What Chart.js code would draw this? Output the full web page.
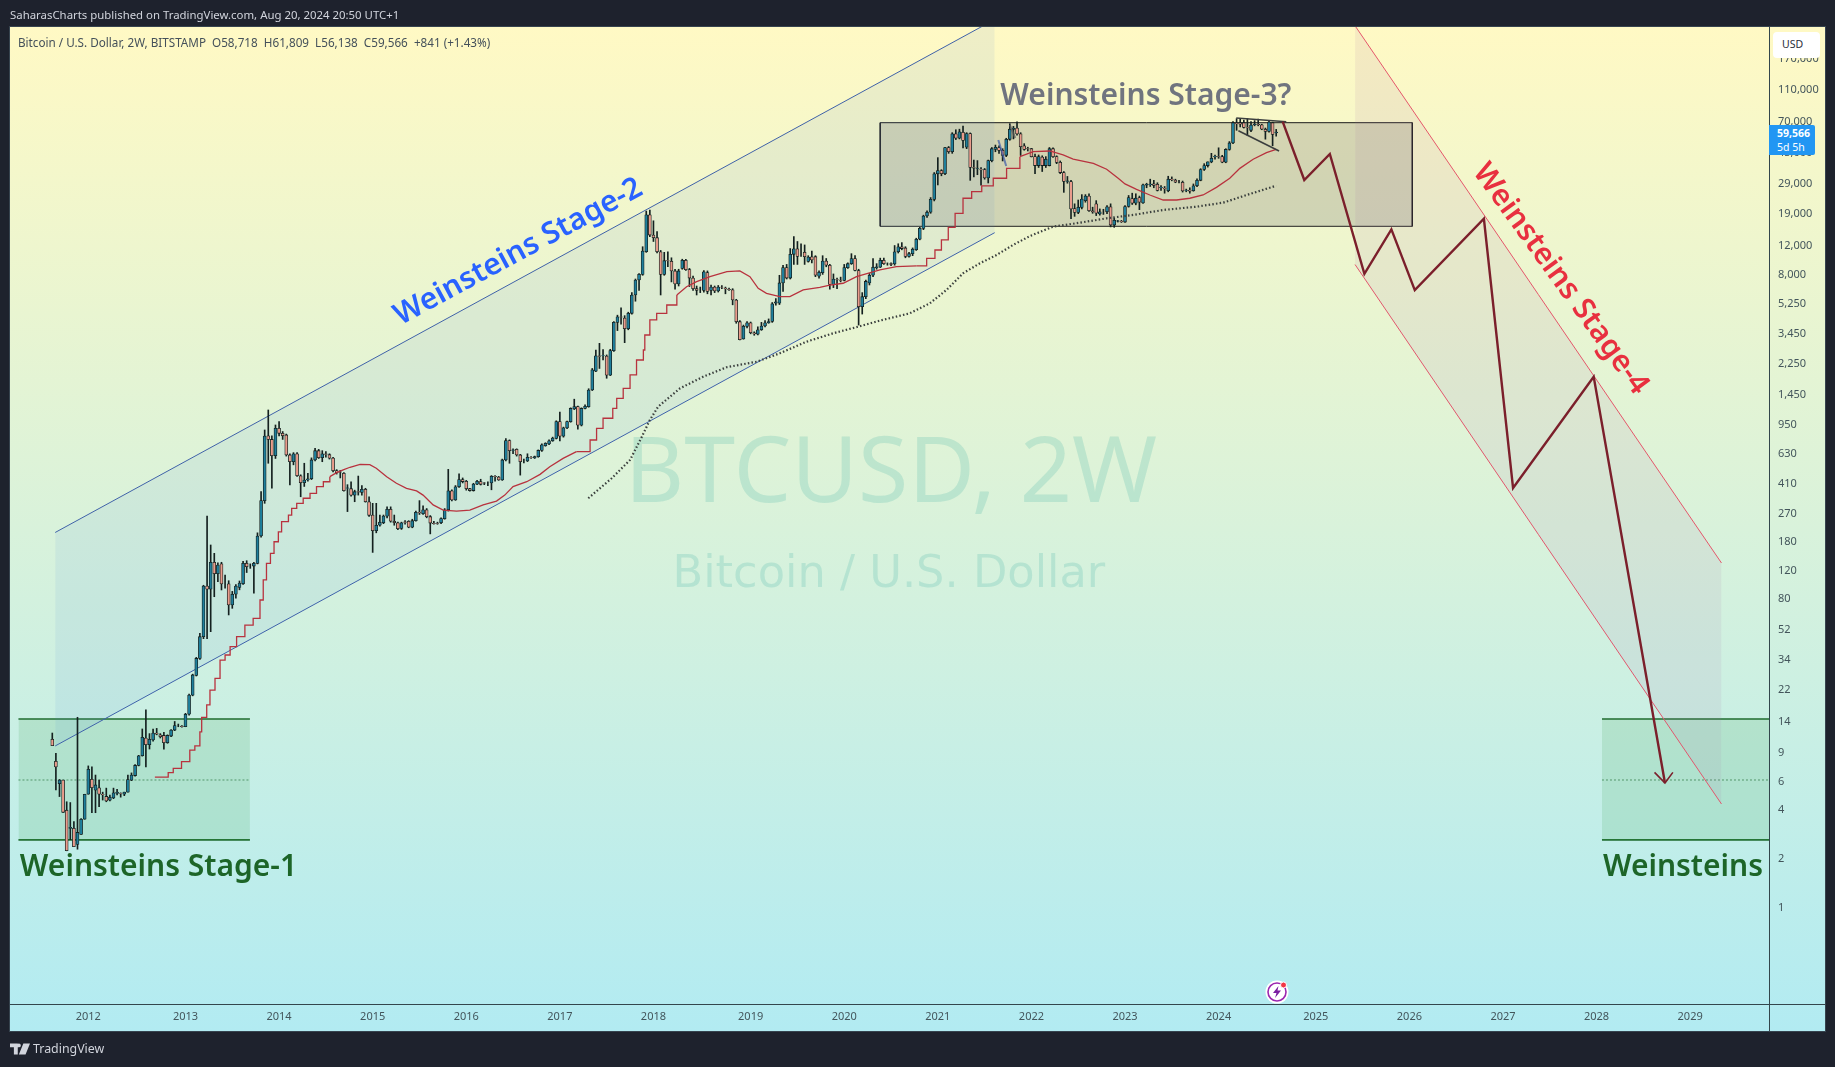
<!DOCTYPE html>
<html>
<head>
<meta charset="utf-8">
<title>BTCUSD 2W</title>
<script src="https://cdn.jsdelivr.net/npm/chart.js@4"></script>
<style>
  html, body { margin: 0; padding: 0; background: #1e222d; width: 1835px; height: 1067px; overflow: hidden; font-family: "Noto Sans", sans-serif; }
  #pane { position: absolute; left: 10px; top: 27px; width: 1815px; height: 1004px; background: linear-gradient(#fff9c4, #b2ebf2); box-shadow: 0 0 0 1px rgba(70,90,100,.6); }
  #timeLine { position: absolute; left: 1759px; top: 977px; width: 1px; height: 27px; background: #33464c; }
  #rightLine { position: absolute; left: 1759px; top: 977px; width: 56px; height: 1px; background: #33464c; }
  canvas { position: absolute; left: 0; top: 0; }
  #published { position: absolute; left: 10px; top: 6px; color: #d1d4dc; font-size: 11.4px; line-height: 18px; white-space: pre; }
  #legend { position: absolute; left: 18px; top: 33px; color: #44505a; font-size: 11.7px; line-height: 18px; white-space: pre; }
  #usd { position: absolute; left: 1773px; top: 32px; width: 47px; height: 26px; background: #fff; border-radius: 4px; color: #2a2e39; font-size: 10.5px; line-height: 25px; text-indent: 9px; }
  #lastPrice { position: absolute; left: 1769px; top: 125px; width: 46px; height: 30px; background: #2196f3; border-radius: 0 2px 2px 0; color: #fff; font-size: 10.5px; line-height: 13.5px; padding: 2px 0 0 8px; box-sizing: border-box; }
  #lastPrice b { display: block; }
  #brand { position: absolute; left: 10px; top: 1040px; height: 18px; color: #d1d4dc; font-size: 12.4px; line-height: 18px; }
  #brand span { position: absolute; left: 23px; }
  #brand svg { position: absolute; left: 0; top: 3px; }
  #bolt { position: absolute; left: 1265px; top: 980px; }
</style>
</head>
<body>
<div id="pane"><div id="timeLine"></div><div id="rightLine"></div></div>
<canvas id="chart" width="1835" height="1067"></canvas>
<div id="published">SaharasCharts published on TradingView.com, Aug 20, 2024 20:50 UTC+1</div>
<div id="legend">Bitcoin / U.S. Dollar, 2W, BITSTAMP  O58,718  H61,809  L56,138  C59,566  +841 (+1.43%)</div>
<div id="usd">USD</div>
<div id="lastPrice"><b>59,566</b>5d 5h</div>
<div id="brand">
  <svg width="20" height="12" viewBox="0 0 36 20"><path fill="#d1d4dc" d="M0 0h14v20H7V7H0zM16 0a3.5 3.5 0 1 1 0 7 3.5 3.5 0 0 1 0-7zM24 0h12l-8 20H16z"/></svg>
  <span>TradingView</span>
</div>
<svg id="bolt" width="24" height="24" viewBox="0 0 24 24">
  <circle cx="12" cy="12" r="11.5" fill="#fff"/>
  <circle cx="12" cy="12" r="9" fill="none" stroke="#9c27b0" stroke-width="1.6"/>
  <path d="M13.5 6 8 13h3.5L10 18l6-7.5h-3.5z" fill="#7b1fa2"/>
  <circle cx="18.5" cy="5" r="3" fill="#f23645" stroke="#fff" stroke-width="1"/>
</svg>
<script>
// 2W candles, one bar every two weeks starting Aug 2011
const barOpen = [
  10.8,7.9,5.75,6.06,3.95,3.05,3.05,2.43,2.8,3.47,
  4.95,6.12,5.25,5.43,4.95,4.8,4.55,4.7,5.0,5.0,
  4.95,5.1,6.05,6.45,7.45,8.55,11,10,10.7,11.8,
  11.5,11.4,10.3,11.3,12.3,13.1,13,12.9,15.4,20.2,
  26.7,34,46.3,95,90.7,133,113,130,98,98,
  72.6,84.5,93,98,131,127,126,131,193,319,
  800,760,604,890,829,810,610,554,620,454,
  411,428,435,568,648,587,620,612,583,488,
  480,470,380,378,345,362,358,375,314,260,
  208,225,233,256,282,238,233,215,236,238,
  219,240,270,265,280,254,231,232,233,247,
  280,367,322,388,430,420,378,368,403,418,
  410,412,410,450,445,428,568,747,650,660,
  610,560,560,590,585,595,650,695,712,745,
  770,978,795,895,978,1170,1210,930,1180,1210,
  1532,2000,2490,2490,2480,1890,2680,4000,4330,4250,
  3660,4549,5899,7295,7900,10900,18400,13800,13300,10900,
  7900,9600,9500,8300,6900,8600,9650,8450,7500,6450,
  6300,6300,8100,6300,6600,6250,6600,6500,6400,6350,
  5495,4040,3160,3780,3980,3450,3380,3600,3800,3970,
  4050,5250,5250,7000,8700,7500,10500,11350,10800,10800,
  9500,10150,10160,7700,8100,9550,9000,6850,7350,7300,
  7250,8700,9200,9900,8350,5000,5758,7000,7800,8700,
  8750,9650,9150,9200,9150,10900,11700,11500,10200,10600,
  11200,13000,15180,18100,19100,22900,32900,34500,33000,47800,
  45000,58000,54500,59300,48000,58300,36000,35500,35000,35000,
  31000,39700,46500,47800,46000,42800,53700,61800,63000,58000,
  49000,47000,47000,42000,37000,41800,37000,37000,47000,42000,
  38700,33500,29500,29500,20100,19000,20400,22500,24000,19500,
  21500,18600,19200,19200,20600,15900,16800,16800,16600,20700,
  23200,21700,23500,21800,28000,28200,28600,28400,27000,26800,
  25900,30500,30100,29300,29200,26000,26100,25900,27800,30000,
  35000,37000,39000,41800,42000,42000,38800,46500,51000,67500,
  68000,68000,63500,61000,66000,66500,66000,62000,60000,68000,
  58718];
const barHigh = [
  11.8,8.85,6.1,6.06,4.45,4.4,3.36,14.75,3.5,4.95,
  7.4,7.3,6.5,6.06,5.1,5.4,4.9,5.4,5.3,5.05,
  5.1,6.5,6.7,7.55,8.6,12.5,16.4,11.7,12.5,12.6,
  11.7,11.9,11.5,12.4,13.9,13.4,13.1,15.6,20.5,27.2,
  34.5,48.6,96,256,170,151,132,133,111,102.4,
  88,97,102,135,136,130,133,202,362,869,
  1154,800,933,978,850,820,620,630,630,460,
  542,470,585,670,660,648,640,620,590,495,
  490,475,400,417,370,452,395,380,337,307,
  307,260,260,292,292,260,235,235,240,240,
  245,275,319,296,285,258,238,235,250,285,
  497,372,395,466,440,425,380,408,425,432,
  412,416,455,455,450,575,770,755,665,665,
  615,575,620,595,600,655,715,725,755,785,
  990,1120,905,985,1190,1345,1220,1190,1240,1560,
  2080,2703,2970,2720,2520,2730,4040,4430,4920,4400,
  4620,6100,7400,8000,11700,19400,19666,16900,14500,11100,
  10800,10900,10000,8500,8500,9800,9800,8600,7700,6700,
  6600,8350,8300,6800,6700,6750,6750,6600,6500,6450,
  5550,4100,3850,4050,4020,3500,3750,4000,4100,4200,
  5300,5600,7800,9000,9100,11400,13490,12600,12200,12000,
  10300,11000,10300,8300,10300,9900,9100,7950,7500,7600,
  9100,9300,10600,10300,8500,6100,7300,8000,9900,9200,
  9950,9950,9300,9300,11900,12200,12400,11700,10800,11500,
  13200,15400,18300,19500,23500,33500,41400,34900,48000,48500,
  59000,61500,62000,64800,59000,58800,40000,39700,36000,35500,
  40000,47800,49500,49000,47000,54500,67000,64500,68800,59000,
  50500,48000,47200,43500,43000,42500,42000,47800,47500,42500,
  39500,34000,31700,30000,21500,22700,24500,24500,24800,20500,
  22500,20000,19900,21000,21500,17600,17000,17000,21000,24200,
  25000,24800,24000,28500,28800,30500,30000,29000,27900,27500,
  31800,31500,30500,30000,29700,26500,27000,28500,30600,35400,
  38000,39000,44000,43000,47600,42800,47000,52000,69000,72000,
  71500,70500,72000,69000,70000,71500,66500,63000,70000,68500,
  61809];
const barLow = [
  9.86,5.26,4.79,3.83,2.22,2.6,2.35,2.27,2.8,3.47,
  4.95,3.81,3.81,4.15,4.56,4.45,4.5,4.65,4.9,4.75,
  4.85,5.1,6.0,6.4,7.4,8.5,7.3,9.4,10.5,11.5,
  11,9.4,10.2,11.2,12.2,12.9,12.8,12.9,15.2,20,
  26.5,33.5,45,45,49.7,81.6,101,89.8,92,63,
  69.2,80,90,97,115,122,85.7,130,190,307,
  542,380,580,800,760,600,398,530,450,337,
  390,420,430,560,580,554,590,575,480,465,
  440,365,273,340,314,345,345,312,255,153,
  202,222,230,250,235,225,211,212,228,217,
  217,238,262,262,250,199,228,228,230,245,
  275,318,320,385,410,370,365,365,400,398,
  400,395,372,420,425,425,560,542,620,600,
  458,545,555,580,580,590,640,690,705,740,
  765,745,785,885,970,1160,880,920,1170,1200,
  1520,1990,2080,2350,1810,1880,2650,3560,3900,3000,
  3600,4500,5400,6300,7800,10800,13500,12600,10700,5899,
  7800,8800,7100,6400,6700,8500,8350,6650,6300,5899,
  6100,6150,6000,5900,6100,6150,6450,6000,6300,5130,
  3950,3120,3150,3700,3400,3330,3350,3570,3750,3950,
  4000,5100,5150,6200,7400,7400,9100,9100,10200,9100,
  9400,9300,7650,7500,7900,8800,6400,6550,6450,7100,
  7200,8600,9100,8300,3850,4500,5600,6800,7650,8500,
  8700,9100,9000,8950,9000,10700,11200,10000,10100,10300,
  11100,12900,14900,17700,18800,22400,28100,32000,32500,44000,
  44000,53500,54000,47500,47000,30000,31500,32500,28000,30500,
  28900,39000,45000,44000,39500,42000,53000,54000,57000,42700,
  46000,45500,41800,33000,36000,34000,36000,36800,41500,38000,
  33000,25300,28800,17400,18000,18700,20000,22000,19300,18800,
  18200,18300,18500,18700,15500,15400,16600,16500,16500,20500,
  21300,21200,19800,21600,27000,27500,27000,25800,26000,25000,
  25500,29800,29000,28900,25400,25500,25000,25700,27400,29800,
  34500,36200,38500,40500,41000,38500,38500,46000,50500,61000,
  64000,63000,56800,59900,65000,65000,61500,53800,59500,49000,
  56138];
const barClose = [
  9.86,7.3,6.06,3.83,2.22,3.1,2.35,2.88,3.47,4.95,
  7.05,5.43,5.65,4.95,4.9,4.5,4.75,5.05,5.1,4.98,
  5.1,6.1,6.5,7.45,8.55,11.1,10,10.8,11.8,11.6,
  11.2,10.3,11.4,12.3,13.1,13.1,12.9,15.4,20.2,26.9,
  34,46.3,95,90.7,133,113,128,97.8,98,72.6,
  84.5,95,99,131,125,127,131,193,319,798,
  760,604,890,829,800,610,554,620,454,411,
  427,435,568,648,587,620,615,583,488,475,
  478,367,382,345,362,360,375,314,259,208,
  225,235,256,282,238,233,214,233,234,219,
  240,270,268,280,254,232,230,231,247,280,
  367,322,388,430,418,378,368,403,420,402,
  409,412,450,448,428,568,747,648,655,610,
  554,560,590,588,595,650,705,719,745,775,
  978,795,895,978,1180,1210,930,1180,1215,1532,
  2040,2490,2470,2500,1890,2680,4000,4330,4300,3660,
  4549,5899,7295,7900,11000,18400,13800,13300,10900,7900,
  9600,9550,8300,6900,8300,9650,8450,7500,6450,6300,
  6300,8200,6200,6600,6250,6600,6580,6450,6350,5495,
  4040,3130,3780,3980,3450,3400,3600,3800,3970,4050,
  5200,5350,7000,8700,7500,10500,11350,10200,10800,10160,
  10100,9700,7800,8150,9550,9000,6850,7400,7300,7250,
  8700,9200,9900,8350,5000,5758,7150,7800,8750,8800,
  9650,9200,9150,9100,10900,11700,11400,10200,10600,11300,
  13000,15180,18100,19100,22900,32900,34500,33000,47800,45000,
  58000,54500,59800,52800,58300,36000,35700,35700,34800,31000,
  39700,47000,48000,45800,42800,53700,62000,63000,58000,48400,
  46500,46800,42000,37000,42000,37000,40500,47000,42000,38700,
  33500,29500,29800,20000,19000,20500,23000,24000,19500,19200,
  18800,19200,19200,20600,15900,17000,16900,16700,20700,23500,
  21700,23300,22000,28200,28400,28500,27900,26000,27300,26700,
  30500,30300,29200,29300,25800,26100,25700,27800,30000,35000,
  37000,39000,41000,42200,41900,38800,46500,51000,68000,67000,
  66500,63500,63200,65800,66500,66000,62000,60000,68500,57500,
  59566];

// red moving average, read at irregular bars
const redBars = [28.5,30.8,32.2,33.6,35.9,38.2,39.6,41,41.5,42.9,43.8,45.2,46.6,48,49.4,51.2,53.5,55.8,57.7,58.6,59.5,60.6,61.6,62.8,63.7,65.6,66.5,67.9,69.7,71.6,73.4,75.3,77.1,79,80.8,82.7,85.5,88.2,90,92.9,95.6,98.4,101.2,103,105.8,108.6,112.3,116,119.7,123.4,125.7,128,131.8,135.5,138.2,141.9,145.6,149.4,151.2,153,155.7,156.8,158.6,160.5,162.3,164.2,164.6,166,167.9,170.7,173.5,176.2,179,182.7,187.4,191,193.8,196.1,198.4,202.1,204.9,208.6,213.2,216,219.7,223.4,229.9,234.5,240.1,242.9,245.2,247,248.9,250.8,253,255.4,258.2,261.4,265.1,268.8,272.5,277.1,280.8,283.6,289.2,292.9,296.1,298,301.2,304.9,308.6,312.3,316,319.7,323.4,327.1,329.9,333.6,337.3,340];
const redValues = [6.32,6.32,6.72,7.15,7.86,9.27,9.82,12,14.75,17.6,21.7,25.6,33.2,35.7,40.2,46.3,54.6,60,77.9,103.5,131,151,178,205,237,260,286,307,330,354,389,417,448,474,493,512,534,531,505,448,408,380,366,345,300,279,275,279,300,317,345,389,417,463,516,581,639,754,890,1026,1182,1362,1570,1897,2346,2703,3343,4140,4549,5117,5899,6637,7127,7654,8209,8300,7654,6490,6043,5758,5758,6335,6580,6795,6966,7654,8415,8820,8912,9925,11170,12880,15400,18800,23270,25540,27700,30900,35560,42000,45060,45500,43000,40600,38200,35100,30900,28500,26400,24370,22700,22700,23270,24370,27170,30900,35560,40450,44450,46600];
// stretches of the red line where the stairs show, as [first bar, last bar]
const redStairRuns = [[28.5,77.1],[145.6,173.5],[240.1,268.8]];

// long dotted moving average
const dotBars = [148.9,155.4,160.5,163.7,166,168.3,174.4,180.8,187.3,195.7,202.1,209.5,216.9,223.9,229.9,238.2,243.8,248.4,253,257.7,262.3,266.9,271.6,278,285.5,292.9,300.3,308.6,317.9,325.3,331.8,340];
const dotValues = [330,438,568,783,1000,1210,1570,1850,2115,2290,2580,3040,3425,3763,4100,4549,5245,6335,8022,9250,10400,11990,13620,15550,16450,17510,18370,19700,20650,21870,24370,27800];

// drawings, bar index and price
const stage2Bars = [0.8,261.8];
const stage2Upper = [203,294000];
const stage2Lower = [9.82,14280];
const stage4Bars = [361.9,463.7];
const stage4Upper = [269000,131.7];
const stage4Lower = [9090,4.31];
const stage1Bars = [-9.4,54.9];
const stage1bBars = [430.5,476.9];
const stage1Top = 14.4, stage1Mid = 6.06, stage1Bottom = 2.59;
const stage3Bars = [230,377.8];
const stage3Top = 67970, stage3Bottom = 15630;
const pathBars = [341.8,347.8,354.9,364.5,372,378.5,397.7,405.8,428.2,448];
const pathValues = [68960,30150,43600,7960,14960,6316,17390,381.6,1848,5.81];
const arrowBars = [445.1,448,450.2];
const arrowValues = [6.75,5.81,6.75];
const wedgeTopBars = [328.9,342.8], wedgeTopValues = [72630,68960];
const wedgeLowBars = [329.5,340.8], wedgeLowValues = [60700,45500];
const blueTickBars = [262.8,265], blueTickValues = [53200,36800];
const grayTickBars = [266,267.5], grayTickValues = [65800,54700];

// axes
const yearLabels = [2012,2013,2014,2015,2016,2017,2018,2019,2020,2021,2022,2023,2024,2025,2026,2027,2028,2029];
const yearBars = [10,37,63,89,115,141,167,194,220,246,272,298,324,351,377,403,429,455];
const priceTicks = [170000,110000,70000,45000,29000,19000,12000,8000,5250,3450,2250,1450,950,630,410,270,180,120,80,52,34,22,14,9,6,4,2,1];

const barIndex = barOpen.map((_, i) => i);
const pts = (xs, ys) => xs.map((x, i) => ({ x, y: ys[i] }));
const lineSet = (xs, ys, color, width, extra) => Object.assign({
  type: 'line', data: pts(xs, ys), borderColor: color, borderWidth: width, pointRadius: 0, fill: false, order: 5
}, extra);
const GREEN = '#1f6b2f', RED_LINE = '#e4566a', BLUE_LINE = '#3f61a8', RED_MA = '#b8323e';

function boxSets(xs, top, bottom, fillColor, lineColor, width, sides) {
  const sets = [
    lineSet(xs, [top, top], lineColor, width, { fill: '+1', backgroundColor: fillColor }),
    lineSet(xs, [bottom, bottom], lineColor, width)
  ];
  if (sides) {
    sets.push(lineSet([xs[0], xs[0]], [top, bottom], lineColor, width));
    sets.push(lineSet([xs[1], xs[1]], [top, bottom], lineColor, width));
  }
  return sets;
}

// the red line is cut into stepped and plain runs
function redRuns() {
  const cuts = [redBars[0]];
  redStairRuns.forEach(r => cuts.push(r[0], r[1]));
  cuts.push(redBars[redBars.length - 1]);
  const sets = [];
  for (let i = 0; i < cuts.length - 1; i++) {
    const keep = redBars.map((b, k) => k).filter(k => redBars[k] >= cuts[i] && redBars[k] <= cuts[i + 1]);
    if (keep.length < 2) continue;
    sets.push(lineSet(keep.map(k => redBars[k]), keep.map(k => redValues[k]), RED_MA, 1.3,
      { stepped: redStairRuns.some(r => r[0] === cuts[i]), order: 2 }));
  }
  return sets;
}

const datasets = [
  // channels and boxes
  lineSet(stage2Bars, stage2Upper, BLUE_LINE, 1, { fill: '+1', backgroundColor: 'rgba(70,130,225,0.085)' }),
  lineSet(stage2Bars, stage2Lower, BLUE_LINE, 1),
  lineSet(stage4Bars, stage4Upper, RED_LINE, 1, { fill: '+1', backgroundColor: 'rgba(170,110,170,0.10)' }),
  lineSet(stage4Bars, stage4Lower, RED_LINE, 1),
  ...boxSets(stage1Bars, stage1Top, stage1Bottom, 'rgba(70,165,90,0.17)', GREEN, 1.6),
  ...boxSets(stage1bBars, stage1Top, stage1Bottom, 'rgba(70,165,90,0.17)', GREEN, 1.6),
  ...boxSets(stage3Bars, stage3Top, stage3Bottom, 'rgba(90,90,95,0.22)', '#1c1c1c', 1, true),
  lineSet(stage1Bars, [stage1Mid, stage1Mid], 'rgba(40,110,60,0.7)', 1, { borderDash: [2, 2] }),
  lineSet(stage1bBars, [stage1Mid, stage1Mid], 'rgba(40,110,60,0.7)', 1, { borderDash: [2, 2] }),
  // candles
  { type: 'bar', data: barIndex.map(i => ({ x: i, y: [barLow[i], barHigh[i]] })), backgroundColor: '#14201f', barThickness: 1, grouped: false, order: 4 },
  { type: 'bar', data: barIndex.map(i => ({ x: i, y: [barOpen[i], barClose[i]] })),
    backgroundColor: barIndex.map(i => barClose[i] >= barOpen[i] ? '#1f7f9c' : '#ea9c8c'),
    borderColor: '#14201f', borderWidth: 0.8, borderSkipped: false, barThickness: 3, grouped: false, order: 3 },
  // averages
  ...redRuns(),
  lineSet(dotBars, dotValues, '#3a3f3d', 2.2, { borderDash: [1.5, 2.2], order: 2 }),
  // hand drawn bits on top
  lineSet(wedgeTopBars, wedgeTopValues, '#3c3f3f', 1.6, { order: 1 }),
  lineSet(wedgeLowBars, wedgeLowValues, '#3c3f3f', 1.6, { order: 1 }),
  lineSet(blueTickBars, blueTickValues, 'rgba(60,90,170,0.7)', 2, { order: 1 }),
  lineSet(grayTickBars, grayTickValues, 'rgba(90,90,90,0.7)', 2, { order: 1 }),
  lineSet(pathBars, pathValues, '#7b1f2b', 2.4, { order: 0 }),
  lineSet(arrowBars, arrowValues, '#7b1f2b', 1.6, { order: 0 })
];

// free text on the chart, placed by bar and price
const chartLabels = [
  { text: 'BTCUSD, 2W', bar: 233, price: 452, font: '91.5px "Noto Sans"', color: 'rgba(38,166,154,0.18)', under: true },
  { text: 'Bitcoin / U.S. Dollar', bar: 232.4, price: 110, font: '44.7px "DejaVu Sans"', color: 'rgba(38,166,154,0.18)', under: true },
  { text: 'Weinsteins Stage-1', bar: 29.5, price: 1.74, font: '600 30px "Noto Sans"', color: '#1d6528' },
  { text: 'Weinsteins', bar: 453, price: 1.74, font: '600 30px "Noto Sans"', color: '#1d6528' },
  { text: 'Weinsteins Stage-2', bar: 129.5, price: 10860, font: '600 30px "Noto Sans"', color: '#2962ff', rotate: -28.4 },
  { text: 'Weinsteins Stage-3?', bar: 303.8, price: 99300, font: '600 30px "Noto Sans"', color: '#70747f' },
  { text: 'Weinsteins Stage-4', bar: 419, price: 7400, font: '600 30px "Noto Sans"', color: '#e8303f', rotate: 54 }
];

function drawLabels(chart, under) {
  const { ctx, scales } = chart;
  ctx.save();
  ctx.textAlign = 'center';
  ctx.textBaseline = 'middle';
  chartLabels.filter(l => !!l.under === under).forEach(l => {
    ctx.save();
    ctx.translate(scales.x.getPixelForValue(l.bar), scales.y.getPixelForValue(l.price));
    if (l.rotate) ctx.rotate(l.rotate * Math.PI / 180);
    ctx.font = l.font;
    ctx.fillStyle = l.color;
    ctx.fillText(l.text, 0, 0);
    ctx.restore();
  });
  ctx.restore();
}

new Chart(document.getElementById('chart'), {
  data: { datasets },
  options: {
    responsive: false,
    animation: false,
    layout: { padding: { left: 10, top: 27, right: 10, bottom: 36 } },
    plugins: { legend: { display: false }, tooltip: { enabled: false } },
    scales: {
      x: {
        type: 'linear',
        offset: false,
        min: -11.75,
        max: 476.9,
        grid: { display: false, drawTicks: false },
        border: { color: '#33464c' },
        afterFit: s => { s.height = 27; },
        afterBuildTicks: s => { s.ticks = yearBars.map(v => ({ value: v })); },
        ticks: {
          autoSkip: false, maxRotation: 0, padding: 6,
          color: '#43555b', font: { family: 'Noto Sans', size: 11 },
          callback: v => yearLabels[yearBars.indexOf(v)]
        }
      },
      y: {
        type: 'logarithmic',
        position: 'right',
        min: 0.2525,
        max: 264200,
        grid: { display: false, drawTicks: false },
        border: { color: '#33464c' },
        afterFit: s => { s.width = 56; },
        afterBuildTicks: s => { s.ticks = priceTicks.map(v => ({ value: v })); },
        ticks: {
          autoSkip: false, padding: 9, labelOffset: 1,
          color: '#43555b', font: { family: 'Noto Sans', size: 11 },
          callback: v => v.toLocaleString('en-US')
        }
      }
    }
  },
  plugins: [{
    id: 'chartLabels',
    beforeDatasetsDraw: c => drawLabels(c, true),
    afterDatasetsDraw: c => drawLabels(c, false)
  }]
});
</script>
</body>
</html>
